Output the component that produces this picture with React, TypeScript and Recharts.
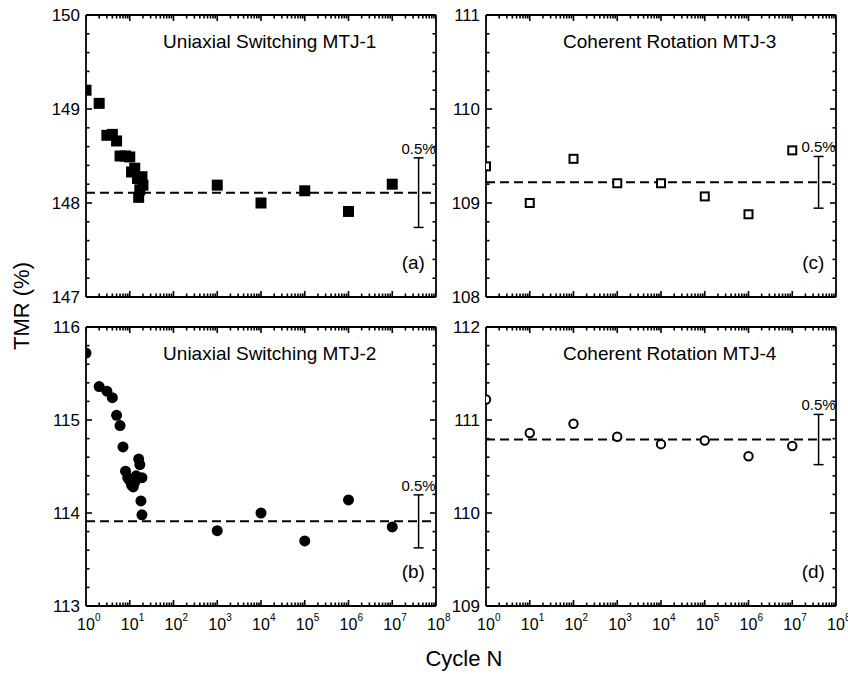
import React from 'react';
import { ScatterChart, Scatter, XAxis, YAxis, ReferenceLine, ErrorBar } from 'recharts';

// cycle counts and TMR values
const cycleA = [1, 2, 3, 4, 5, 6, 8, 10, 11, 13, 15, 19, 20, 17, 16, 1e3, 1e4, 1e5, 1e6, 1e7];
const tmrA = [149.2, 149.06, 148.72, 148.73, 148.66, 148.5, 148.5, 148.49, 148.33, 148.37, 148.26, 148.28, 148.19, 148.14, 148.06, 148.19, 148.0, 148.13, 147.91, 148.2];

const cycleB = [1, 2, 3, 4, 5, 6, 7, 8, 9, 10, 11, 12, 13, 14, 16, 17, 19, 18, 19, 1e3, 1e4, 1e5, 1e6, 1e7];
const tmrB = [115.72, 115.36, 115.31, 115.24, 115.05, 114.94, 114.71, 114.45, 114.38, 114.35, 114.3, 114.28, 114.33, 114.4, 114.58, 114.52, 114.38, 114.13, 113.98, 113.81, 114.0, 113.7, 114.14, 113.85];

const cycleC = [1, 10, 100, 1e3, 1e4, 1e5, 1e6, 1e7];
const tmrC = [109.39, 109.0, 109.47, 109.21, 109.21, 109.07, 108.88, 109.56];

const cycleD = [1, 10, 100, 1e3, 1e4, 1e5, 1e6, 1e7];
const tmrD = [111.22, 110.86, 110.96, 110.82, 110.74, 110.78, 110.61, 110.72];

// dashed average lines and 0.5% scale bars
const meanTmr = { a: 148.11, b: 113.91, c: 109.22, d: 110.79 };
const barCycle = 4e7;
const barHalf = { a: 0.37, b: 0.285, c: 0.275, d: 0.27 };

const decades = [1, 10, 100, 1e3, 1e4, 1e5, 1e6, 1e7, 1e8];
const yMajorA = [147, 148, 149, 150];
const yMajorB = [113, 114, 115, 116];
const yMajorC = [108, 109, 110, 111];
const yMajorD = [109, 110, 111, 112];

const FONT = '"Liberation Sans", Arial, sans-serif';

const xTicks: number[] = [];
decades.forEach((d, i) => {
  xTicks.push(d);
  if (i < decades.length - 1) for (let m = 2; m <= 9; m++) xTicks.push(d * m);
});

const minorY = (majors: number[]) => {
  const out: number[] = [];
  for (let i = 0; i < majors.length - 1; i++) {
    for (let k = 0; k < 5; k++) out.push(majors[i] + k * 0.2);
  }
  out.push(majors[majors.length - 1]);
  return out;
};

const isDecade = (v: number) => Math.abs(Math.log10(v) - Math.round(Math.log10(v))) < 1e-9;
const isInt = (v: number) => Math.abs(v - Math.round(v)) < 1e-6;

const XLabel = (props: any) => {
  const { x, y, payload, labels } = props;
  const v = payload.value;
  if (!labels || !isDecade(v)) return <g />;
  const exp = Math.round(Math.log10(v));
  return (
    <g fontFamily={FONT} fill="#000" stroke="none">
      <text x={x} y={y + 24} textAnchor="middle" fontSize={16}>10</text>
      <text x={x + 9} y={y + 15} fontSize={10}>{exp}</text>
    </g>
  );
};

const YLabel = (props: any) => {
  const { x, y, payload } = props;
  const v = payload.value;
  if (!isInt(v)) return <g />;
  return (
    <text x={x - 6} y={y + 6} textAnchor="end" fontSize={17} fontFamily={FONT} fill="#000" stroke="none">
      {Math.round(v)}
    </text>
  );
};

// inward tick mark, placed on the frame by the chart's own scales
const TickMark = (p: any) => {
  const { cx, cy, payload } = p;
  const len = payload.major ? 6 : 3.5;
  let d = '';
  if (payload.side === 'b') d = `M${cx},${cy}L${cx},${cy - len}`;
  if (payload.side === 't') d = `M${cx},${cy}L${cx},${cy + len}`;
  if (payload.side === 'l') d = `M${cx},${cy}L${cx + len},${cy}`;
  if (payload.side === 'r') d = `M${cx},${cy}L${cx - len},${cy}`;
  return <path d={d} stroke="#000" strokeWidth={1.6} fill="none" />;
};

const FilledSquare = (p: any) => <rect x={p.cx - 5.5} y={p.cy - 5.5} width={11} height={11} fill="#000" />;
const OpenSquare = (p: any) => (
  <rect x={p.cx - 4} y={p.cy - 4} width={8} height={8} fill="#fff" stroke="#000" strokeWidth={2} />
);
const FilledCircle = (p: any) => <circle cx={p.cx} cy={p.cy} r={5.5} fill="#000" />;
const OpenCircle = (p: any) => <circle cx={p.cx} cy={p.cy} r={4.2} fill="#fff" stroke="#000" strokeWidth={2} />;

const BarLabel = (p: any) => (
  <text x={p.cx} y={p.cy - 4} textAnchor="middle" fontSize={15} fontFamily={FONT} fill="#000">0.5%</text>
);
const Nothing = () => <g />;

const PLOT_W = 350;
const LEFT_W = 60;
const SIDE = 10;
const RIGHT_W = 30;

interface PanelProps {
  plotLeft: number;
  plotTop: number;
  plotH: number;
  labels: boolean;
  majors: number[];
  cycles: number[];
  tmr: number[];
  shape: any;
  mean: number;
  half: number;
}

const Panel = ({ plotLeft, plotTop, plotH, labels, majors, cycles, tmr, shape, mean, half }: PanelProps) => {
  const rows = cycles.map((x, i) => ({ x, y: tmr[i] }));
  const bar = [{ x: barCycle, y: mean, err: half }];
  const barTop = [{ x: barCycle, y: mean + half }];
  const bottomH = labels ? 40 : SIDE;
  const yMin = majors[0];
  const yMax = majors[majors.length - 1];
  const yTicks = minorY(majors);
  const tickRows = [
    ...xTicks.map(v => ({ x: v, y: yMin, side: 'b', major: isDecade(v) })),
    ...xTicks.map(v => ({ x: v, y: yMax, side: 't', major: isDecade(v) })),
    ...yTicks.map(v => ({ x: 1, y: v, side: 'l', major: isInt(v) })),
    ...yTicks.map(v => ({ x: 1e8, y: v, side: 'r', major: isInt(v) })),
  ];
  const axisLine = { stroke: '#000', strokeWidth: 1.8 };
  return (
    <div style={{ position: 'absolute', left: plotLeft - LEFT_W, top: plotTop - SIDE }}>
      <ScatterChart
        width={LEFT_W + PLOT_W + RIGHT_W}
        height={SIDE + plotH + bottomH}
        margin={{ top: 0, right: 0, bottom: 0, left: 0 }}
      >
        <XAxis
          xAxisId="b"
          dataKey="x"
          type="number"
          scale="log"
          domain={[1, 1e8]}
          allowDataOverflow
          ticks={decades}
          interval={0}
          height={bottomH}
          tickSize={0}
          tickMargin={0}
          tickLine={false}
          axisLine={axisLine}
          tick={(p: any) => <XLabel {...p} labels={labels} />}
        />
        <XAxis
          xAxisId="t"
          orientation="top"
          dataKey="x"
          type="number"
          scale="log"
          domain={[1, 1e8]}
          allowDataOverflow
          ticks={decades}
          height={SIDE}
          tickLine={false}
          tick={false}
          axisLine={axisLine}
        />
        <YAxis
          yAxisId="l"
          dataKey="y"
          type="number"
          domain={[yMin, yMax]}
          allowDataOverflow
          ticks={majors}
          interval={0}
          width={LEFT_W}
          tickSize={0}
          tickMargin={0}
          tickLine={false}
          axisLine={axisLine}
          tick={(p: any) => <YLabel {...p} />}
        />
        <YAxis
          yAxisId="r"
          orientation="right"
          dataKey="y"
          type="number"
          domain={[yMin, yMax]}
          allowDataOverflow
          ticks={majors}
          width={RIGHT_W}
          tickLine={false}
          tick={false}
          axisLine={axisLine}
        />
        <ReferenceLine
          xAxisId="b"
          yAxisId="l"
          y={mean}
          stroke="#000"
          strokeWidth={2}
          strokeDasharray="9 5"
        />
        <Scatter xAxisId="b" yAxisId="l" data={tickRows} shape={TickMark} isAnimationActive={false} />
        <Scatter xAxisId="b" yAxisId="l" data={rows} shape={shape} isAnimationActive={false} />
        <Scatter xAxisId="b" yAxisId="l" data={bar} shape={Nothing} isAnimationActive={false}>
          <ErrorBar dataKey="err" direction="y" width={5} stroke="#000" strokeWidth={1.5} />
        </Scatter>
        <Scatter xAxisId="b" yAxisId="l" data={barTop} shape={BarLabel} isAnimationActive={false} />
      </ScatterChart>
    </div>
  );
};

const panels = [
  { key: 'a', plotLeft: 86, plotTop: 15, plotH: 282, labels: false, majors: yMajorA, cycles: cycleA, tmr: tmrA, shape: FilledSquare, title: 'Uniaxial Switching MTJ-1' },
  { key: 'c', plotLeft: 486, plotTop: 15, plotH: 282, labels: false, majors: yMajorC, cycles: cycleC, tmr: tmrC, shape: OpenSquare, title: 'Coherent Rotation MTJ-3' },
  { key: 'b', plotLeft: 86, plotTop: 327, plotH: 279, labels: true, majors: yMajorB, cycles: cycleB, tmr: tmrB, shape: FilledCircle, title: 'Uniaxial Switching MTJ-2' },
  { key: 'd', plotLeft: 486, plotTop: 327, plotH: 279, labels: true, majors: yMajorD, cycles: cycleD, tmr: tmrD, shape: OpenCircle, title: 'Coherent Rotation MTJ-4' },
];

export default function App() {
  return (
    <div style={{ position: 'absolute', left: 0, top: 0, width: 848, height: 674, background: '#fff', overflow: 'hidden' }}>
      {panels.map(p => (
        <Panel
          key={p.key}
          plotLeft={p.plotLeft}
          plotTop={p.plotTop}
          plotH={p.plotH}
          labels={p.labels}
          majors={p.majors}
          cycles={p.cycles}
          tmr={p.tmr}
          shape={p.shape}
          mean={meanTmr[p.key as keyof typeof meanTmr]}
          half={barHalf[p.key as keyof typeof barHalf]}
        />
      ))}
      <svg
        width={848}
        height={674}
        style={{ position: 'absolute', left: 0, top: 0, pointerEvents: 'none' }}
        fontFamily={FONT}
      >
        {panels.map(p => (
          <g key={p.key}>
            <text x={p.plotLeft + 0.525 * PLOT_W} y={p.plotTop + 33} textAnchor="middle" fontSize={19}>
              {p.title}
            </text>
            <text x={p.plotLeft + 0.935 * PLOT_W} y={p.plotTop + p.plotH - 28} textAnchor="middle" fontSize={19}>
              ({p.key})
            </text>
          </g>
        ))}
        <text transform="translate(29,306) rotate(-90)" textAnchor="middle" fontSize={22}>TMR (%)</text>
        <text x={464} y={666} textAnchor="middle" fontSize={22}>Cycle N</text>
      </svg>
    </div>
  );
}
